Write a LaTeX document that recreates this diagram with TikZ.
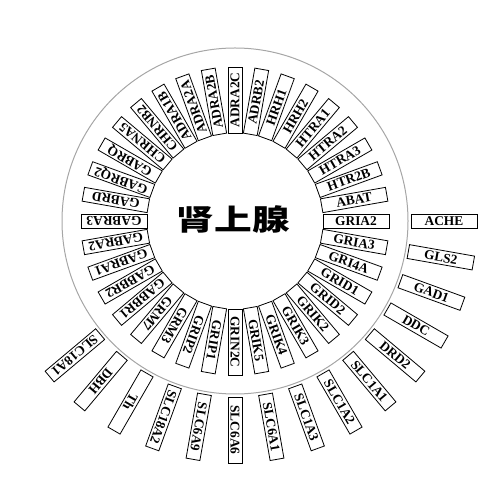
\documentclass[tikz,border=0pt]{standalone}
\usepackage{fontspec}
\usetikzlibrary{calc}
\setmainfont{Liberation Serif}
\newfontfamily\cjkfont{Noto Sans CJK SC}
\tikzset{
  genebox/.style={draw=black, line width=0.8pt, minimum width=66pt, minimum height=14pt,
    inner sep=0pt, font=\fontsize{13.4}{13.4}\selectfont\bfseries, fill=white},
  ring/.style={draw=black!35, line width=1pt},
  title/.style={font=\cjkfont\bfseries\fontsize{29}{29}\selectfont, xscale=1.3}
}
\begin{document}
\begin{tikzpicture}[x=1pt,y=1pt]
\useasboundingbox (0,0) rectangle (500,500);
\coordinate (c) at (235,279);
\draw[ring] (c) circle (173);
\node[title] (t) at (233.5,280) {肾上腺};
\foreach \g [count=\i from 0] in {GRIA2,ABAT,HTR2B,HTRA3,HTRA2,HTRA1,HRH2,HRH1,ADRB2,ADRA2C,ADRA2B,ADRA2A,ADRA1B,CHRNB2,CHRNA5,GABRQ,GABRQ2,GABRD,GABRA3,GABRA2,GABRA1,GABBR2,GABBR1,GRM7,GRM3,GRIP2,GRIP1,GRIN2C,GRIK5,GRIK4,GRIK3,GRIK2,GRID2,GRID1,GRI4A,GRIA3}{
  \pgfmathsetmacro{\a}{10*\i}
  \node[genebox, rotate=\a] (in\i) at ($(c)+(\a:121)$) {\g};
}
\foreach \g [count=\i from 0] in {ACHE,GLS2,GAD1,DDC,DRD2,SLC1A1,SLC1A2,SLC1A3,SLC6A1,SLC6A6,SLC6A9,SLC18A2,Th,DBH,SLC18A1}{
  \pgfmathsetmacro{\a}{-10*\i}
  \node[genebox, rotate=\a] (out\i) at ($(c)+(\a:209)$) {\g};
}
\end{tikzpicture}
\end{document}
